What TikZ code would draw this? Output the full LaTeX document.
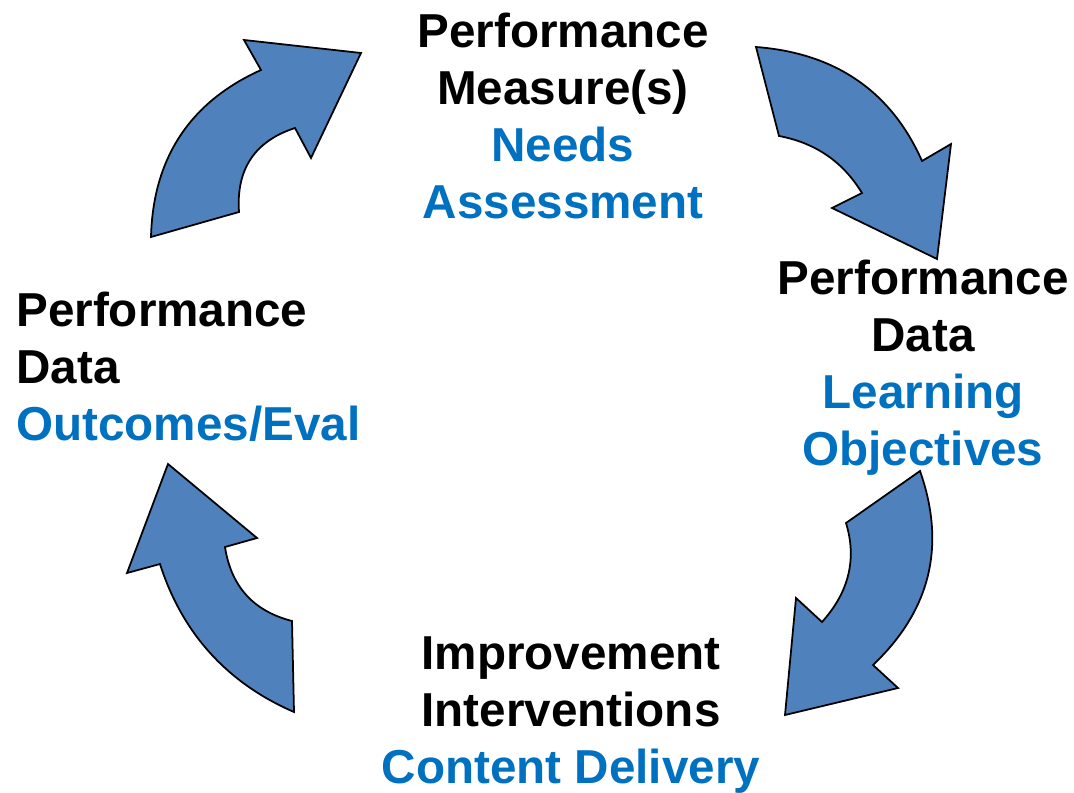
\documentclass[tikz,border=0pt]{standalone}
\usepackage{fontspec}
\setmainfont{Liberation Sans}

\definecolor{arrowblue}{HTML}{4F81BD}
\definecolor{labelblue}{HTML}{0070C0}

\tikzset{
  cyclearrow/.style={draw=black, line width=1pt, fill=arrowblue, line join=miter},
  stage/.style={font=\fontsize{27.1}{32.4}\selectfont\bfseries, inner sep=0pt}
}

\begin{document}
\begin{tikzpicture}[x=0.02cm, y=-0.02cm]
\useasboundingbox (0,0) rectangle (1074,793);

% stage labels
\node[stage, align=center] (measure) at (563,116) {Performance\\Measure(s)\\\textcolor{labelblue}{Needs}\\\textcolor{labelblue}{Assessment}};
\node[stage, align=center] (objectives) at (923,368) {Performance\\Data\\\textcolor{labelblue}{Learning}\\\textcolor{labelblue}{Objectives}};
\node[stage, align=center] (delivery) at (571,715) {Improvement\\Interventions\\\textcolor{labelblue}{Content Delivery}};
\node[stage, align=left, anchor=west] (outcomes) at (16,367) {Performance\\Data\\\textcolor{labelblue}{Outcomes/Eval}};

% curved block arrows
\draw[cyclearrow] (151,237) -- (239,212) .. controls (236,169) and (255,141) .. (295,128) -- (311,158) -- (361,53) -- (244,40) -- (261,70) .. controls (190,102) and (153,158) .. (151,237) -- cycle;
\draw[cyclearrow] (756,47) .. controls (835,53) and (891,91) .. (922,161) -- (951,144) -- (937,259) -- (832,208) -- (862,193) .. controls (843,162) and (816,143) .. (779,136) -- cycle;
\draw[cyclearrow] (920,471) -- (846,523) .. controls (857,559) and (849,592) .. (822,622) -- (796,598) -- (785,715) -- (898,688) -- (873,665) .. controls (931,610) and (946,545) .. (920,471) -- cycle;
\draw[cyclearrow] (168,464) -- (257,538) -- (225,547) .. controls (231,586) and (253,611) .. (292,621) -- (294,712) .. controls (227,683) and (182,633) .. (160,564) -- (127,573) -- cycle;
\end{tikzpicture}
\end{document}
